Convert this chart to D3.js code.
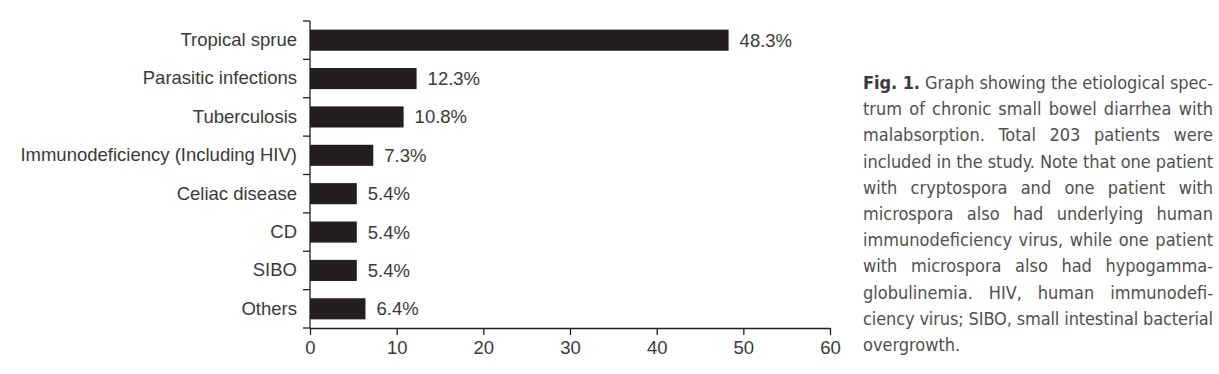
<!DOCTYPE html>
<html>
<head>
<meta charset="utf-8">
<script src="https://cdn.jsdelivr.net/npm/d3@7"></script>
<style>
  html, body { margin: 0; padding: 0; background: #fff; overflow: hidden; }
  svg { display: block; }
  .lab { font-family: "Liberation Sans", Arial, sans-serif; font-size: 18.5px; fill: #3a3a3a; }
  .cap { font-family: "Liberation Sans Narrow", "DejaVu Sans Condensed", sans-serif; font-size: 18px; fill: #505050; }
</style>
</head>
<body>
<svg width="1219" height="374"></svg>
<script>
// données
const categories = ['Tropical sprue', 'Parasitic infections', 'Tuberculosis',
  'Immunodeficiency (Including HIV)', 'Celiac disease', 'CD', 'SIBO', 'Others'];
const values = [48.3, 12.3, 10.8, 7.3, 5.4, 5.4, 5.4, 6.4];
const xTicks = [0, 10, 20, 30, 40, 50, 60];
const captionLines = [
  'Fig. 1. Graph showing the etiological spec-',
  'trum of chronic small bowel diarrhea with',
  'malabsorption. Total 203 patients were',
  'included in the study. Note that one patient',
  'with cryptospora and one patient with',
  'microspora also had underlying human',
  'immunodeficiency virus, while one patient',
  'with microspora also had hypogamma-',
  'globulinemia. HIV, human immunodefi-',
  'ciency virus; SIBO, small intestinal bacterial',
  'overgrowth.'
];

const svg = d3.select('svg');
const ink = '#231f20';

const margin = { top: 21, left: 310 };
const innerWidth = 520;
const innerHeight = 307;

const g = svg.append('g')
  .attr('transform', `translate(${margin.left},${margin.top})`);

// échelles
const x = d3.scaleLinear().domain([0, 60]).range([0, innerWidth]);
const y = d3.scaleBand().domain(categories).range([0, innerHeight])
  .paddingInner(0.45).paddingOuter(0.225);

// barres
g.selectAll('rect.bar')
  .data(values)
  .join('rect')
  .attr('class', 'bar')
  .attr('x', 0)
  .attr('y', (d, i) => y(categories[i]))
  .attr('width', d => x(d))
  .attr('height', y.bandwidth())
  .attr('fill', ink);

// étiquettes de valeur
g.selectAll('text.val')
  .data(values)
  .join('text')
  .attr('class', 'lab val')
  .attr('x', d => x(d) + 11)
  .attr('y', (d, i) => y(categories[i]) + y.bandwidth() / 2)
  .attr('dy', '0.35em')
  .text(d => d.toFixed(1) + '%');

// axe Y : libellés
const yAxis = g.append('g').call(d3.axisLeft(y).tickSize(0).tickPadding(13));
yAxis.select('.domain').remove();
yAxis.selectAll('text')
  .attr('class', 'lab')
  .attr('font-size', null)
  .attr('font-family', null);

// axe Y : ligne et traits entre catégories
g.append('line')
  .attr('x1', 0).attr('x2', 0)
  .attr('y1', 0).attr('y2', innerHeight)
  .attr('stroke', ink).attr('stroke-width', 1.3);
g.selectAll('line.sep')
  .data(d3.range(categories.length + 1))
  .join('line')
  .attr('class', 'sep')
  .attr('x1', -7).attr('x2', 0)
  .attr('y1', i => i * y.step()).attr('y2', i => i * y.step())
  .attr('stroke', ink).attr('stroke-width', 1.3);

// axe X
const xAxis = g.append('g')
  .attr('transform', `translate(0,${innerHeight})`)
  .call(d3.axisBottom(x).tickValues(xTicks).tickSize(7).tickPadding(6).tickSizeOuter(0));
xAxis.select('.domain').attr('stroke', ink).attr('stroke-width', 1.3);
xAxis.selectAll('.tick line').attr('stroke', ink).attr('stroke-width', 1.3);
xAxis.selectAll('text')
  .attr('class', 'lab')
  .attr('font-size', null)
  .attr('font-family', null);

// légende de la figure : texte justifié
const capX = 863, capW = 350, capY0 = 89, capStep = 26.2;
const cap = svg.append('g');
captionLines.forEach((line, i) => {
  const t = cap.append('text')
    .attr('class', 'cap')
    .attr('x', capX)
    .attr('y', capY0 + i * capStep);
  if (i === 0) {
    t.append('tspan').attr('font-weight', 'bold').attr('fill', '#3a3a3a').text('Fig. 1.');
    t.append('tspan').text(line.slice(7));
  } else {
    t.text(line);
  }
  if (i < captionLines.length - 1) {
    const w = t.node().getComputedTextLength();
    if (w <= capW) {
      // espace supplémentaire réparti entre les mots
      const gaps = line.split(' ').length - 1;
      t.style('word-spacing', ((capW - w) / gaps) + 'px');
    } else {
      // ligne trop longue : on resserre les lettres
      t.style('letter-spacing', ((capW - w) / line.length) + 'px');
    }
  }
});
</script>
</body>
</html>
